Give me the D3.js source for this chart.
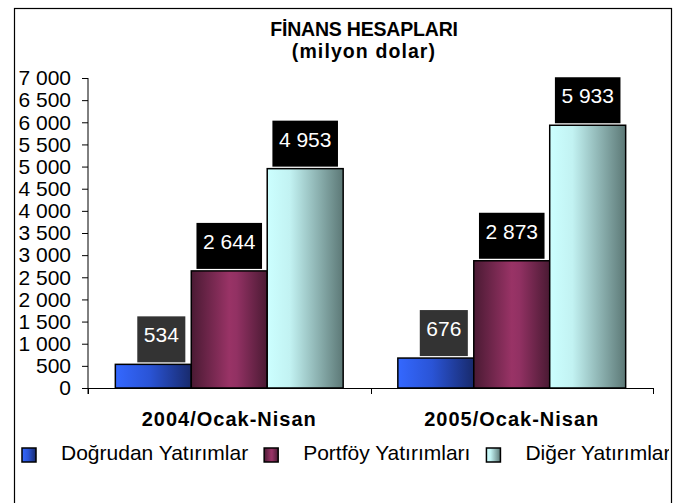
<!DOCTYPE html>
<html>
<head>
<meta charset="utf-8">
<script src="https://cdn.jsdelivr.net/npm/d3@7"></script>
<style>
  html, body { margin: 0; padding: 0; background: #fff; }
  svg { display: block; font-family: "Liberation Sans", Arial, sans-serif; }
</style>
</head>
<body>
<svg id="chart" width="684" height="503"></svg>
<script>
// ---- data ----
const categories = ["2004/Ocak-Nisan", "2005/Ocak-Nisan"];
const seriesNames = ["Doğrudan Yatırımlar", "Portföy Yatırımları", "Diğer Yatırımlar"];
const dogrudan = [534, 676];
const portfoy = [2644, 2873];
const diger = [4953, 5933];
const yTicks = [0, 500, 1000, 1500, 2000, 2500, 3000, 3500, 4000, 4500, 5000, 5500, 6000, 6500, 7000];
const titleText = "FİNANS HESAPLARI";
const subtitleText = "(milyon dolar)";

const seriesValues = [dogrudan, portfoy, diger];
const fmt = v => d3.format(",")(v).replace(/,/g, " ");

// ---- layout ----
const svg = d3.select("#chart");
const W = 684, H = 503;
const plot = { left: 88, right: 653, top: 78, bottom: 388 };

const y = d3.scaleLinear().domain([0, 7000]).range([plot.bottom, plot.top]);
const x0 = d3.scaleBand().domain(categories).range([plot.left, plot.right]).padding(0);
const x1 = d3.scaleBand().domain(d3.range(seriesNames.length))
  .range([0, x0.bandwidth()]).paddingInner(0).paddingOuter(0.36);

// gradients
const defs = svg.append("defs");
const gradSpecs = [
  [[0, "#3468ff"], [0.45, "#2a54d6"], [1, "#182a6c"]],
  [[0, "#4a1a33"], [0.5, "#993366"], [0.6, "#923163"], [1, "#4a1a33"]],
  [[0, "#ccffff"], [0.3, "#c2f2f2"], [1, "#5c7876"]]
];
gradSpecs.forEach((stops, i) => {
  const g = defs.append("linearGradient").attr("id", "g" + i)
    .attr("x1", "0").attr("x2", "1").attr("y1", "0").attr("y2", "0");
  stops.forEach(s => g.append("stop").attr("offset", s[0]).attr("stop-color", s[1]));
});
defs.append("clipPath").attr("id", "frameClip")
  .append("rect").attr("x", 15).attr("y", 9).attr("width", 654).attr("height", H);

const root = svg.append("g").attr("clip-path", "url(#frameClip)");

// title
root.append("text").attr("x", 364).attr("y", 36).attr("text-anchor", "middle")
  .attr("font-size", 19.5).attr("font-weight", "bold").attr("letter-spacing", -0.2)
  .text(titleText);
root.append("text").attr("x", 364).attr("y", 58).attr("text-anchor", "middle")
  .attr("font-size", 19.5).attr("font-weight", "bold").attr("letter-spacing", 1.1)
  .text(subtitleText);

// y axis
const yAxis = d3.axisLeft(y).tickValues(yTicks).tickSize(6).tickPadding(11).tickFormat(fmt);
const ya = root.append("g").attr("transform", `translate(${plot.left},0)`).call(yAxis);
ya.select(".domain").attr("stroke", "#000").attr("d", `M0,${plot.top}V${plot.bottom + 6}`);
ya.selectAll(".tick line").attr("stroke", "#000");
ya.selectAll(".tick text").attr("font-size", 21).attr("fill", "#000")
  .attr("font-family", "'Liberation Sans', Arial, sans-serif");

// x axis (ticks at category boundaries)
const xa = root.append("g");
xa.append("line").attr("x1", plot.left).attr("x2", plot.right)
  .attr("y1", plot.bottom + 0.5).attr("y2", plot.bottom + 0.5).attr("stroke", "#000");
const bounds = categories.map(c => x0(c)).concat([x0(categories[categories.length - 1]) + x0.bandwidth()]);
xa.selectAll("line.t").data(bounds).join("line").attr("class", "t")
  .attr("x1", d => Math.round(d) + 0.5).attr("x2", d => Math.round(d) + 0.5)
  .attr("y1", plot.bottom).attr("y2", plot.bottom + 6).attr("stroke", "#000");
xa.selectAll("text").data(categories).join("text")
  .attr("x", d => x0(d) + x0.bandwidth() / 2).attr("y", 426)
  .attr("text-anchor", "middle").attr("font-size", 20).attr("font-weight", "bold")
  .attr("letter-spacing", 1).text(d => d);

// bars
const barData = [];
categories.forEach((c, ci) => {
  seriesValues.forEach((vals, si) => barData.push({ c, si, v: vals[ci] }));
});
root.append("g").selectAll("rect").data(barData).join("rect")
  .attr("x", d => x0(d.c) + x1(d.si))
  .attr("y", d => y(d.v))
  .attr("width", x1.bandwidth())
  .attr("height", d => y(0) - y(d.v))
  .attr("fill", d => `url(#g${d.si})`)
  .attr("stroke", "#000").attr("stroke-width", 1.5);

// data labels
const labelBg = ["#333333", "#000000", "#000000"];
const labelShift = [8, 0, 0];
const lg = root.append("g");
barData.forEach(d => {
  const cx = x0(d.c) + x1(d.si) + x1.bandwidth() / 2 + labelShift[d.si];
  const boxBottom = y(d.v) - 2;
  const g = lg.append("g");
  const rect = g.append("rect");
  const t = g.append("text").attr("x", cx).attr("y", boxBottom - 46 + 26)
    .attr("text-anchor", "middle").attr("font-size", 21).attr("fill", "#fff")
    .text(fmt(d.v));
  const tw = t.node().getComputedTextLength();
  const bw = tw + 13;
  rect.attr("x", cx - bw / 2).attr("y", boxBottom - 46).attr("width", bw).attr("height", 46)
    .attr("fill", labelBg[d.si]);
});

// legend
const leg = root.append("g");
let lx = 22;
seriesNames.forEach((name, i) => {
  leg.append("rect").attr("x", lx).attr("y", 448).attr("width", 14).attr("height", 14)
    .attr("fill", `url(#g${i})`).attr("stroke", "#000").attr("stroke-width", 1.5);
  const t = leg.append("text").attr("x", lx + 39).attr("y", 460).attr("font-size", 21)
    .attr("fill", "#000").text(name);
  lx = lx + 39 + t.node().getComputedTextLength() + 16;
});

// frame
svg.append("rect").attr("x", 14.5).attr("y", 8.5).attr("width", 657).attr("height", H + 10)
  .attr("fill", "none").attr("stroke", "#000").attr("stroke-width", 1.2);
</script>
</body>
</html>
